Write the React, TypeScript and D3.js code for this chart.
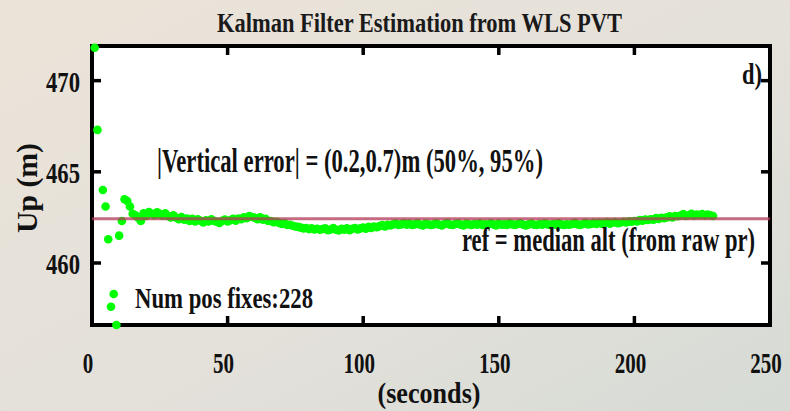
import React from 'react';
import * as d3 from 'd3';

// ---- data ----
const titleText = 'Kalman Filter Estimation from WLS PVT';
const xLabelText = '(seconds)';
const yLabelText = 'Up (m)';
const errorText = '|Vertical error| = (0.2,0.7)m (50%, 95%)';
const refText = 'ref = median alt (from raw pr)';
const fixesText = 'Num pos fixes:228';
const panelText = 'd)';

const xTickValues = [0, 50, 100, 150, 200, 250];
const yTickValues = [460, 465, 470];
const xDomain = [0, 250];
const yDomain = [456.6, 471.9];

const refAltitude = 462.42;

// first fixes (convergence transient)
const earlyTimes = [1, 2, 4, 5, 6, 7, 8, 9, 10, 11, 12, 13, 14, 15];
const earlyValues = [471.8, 467.3, 464.0, 463.1, 461.3, 457.6, 458.3, 456.6, 461.5, 462.3, 463.5, 463.4, 463.1, 462.7];

// steady track, one fix per second from t = 16
const trackStart = 16;
const trackValues = [
  462.62, 462.48, 462.30, 462.72, 462.58, 462.80, 462.70, 462.62, 462.78, 462.68,
  462.60, 462.72, 462.58, 462.50, 462.62, 462.48, 462.40, 462.52, 462.38, 462.44,
  462.30, 462.42, 462.28, 462.40, 462.32, 462.22, 462.34, 462.28, 462.40, 462.30,
  462.26, 462.20, 462.32, 462.38, 462.28, 462.34, 462.42, 462.32, 462.44, 462.40,
  462.50, 462.46, 462.58, 462.52, 462.48, 462.40, 462.50, 462.38, 462.42, 462.30,
  462.30, 462.24, 462.26, 462.20, 462.14, 462.18, 462.08, 462.10, 462.04, 462.00,
  461.98, 461.94, 461.90, 461.92, 461.86, 461.90, 461.84, 461.88, 461.82, 461.86,
  461.90, 461.80, 461.84, 461.92, 461.82, 461.78, 461.88, 461.82, 461.90, 461.80,
  461.88, 461.92, 461.84, 461.90, 461.94, 461.88, 461.98, 461.92, 462.00, 461.96,
  462.02, 462.08, 462.00, 462.10, 462.06, 462.12, 462.16, 462.08, 462.12, 462.18,
  462.10, 462.16, 462.08, 462.12, 462.18, 462.10, 462.06, 462.16, 462.12, 462.08,
  462.12, 462.18, 462.10, 462.06, 462.14, 462.20, 462.10, 462.08, 462.14, 462.18,
  462.10, 462.06, 462.16, 462.12, 462.08, 462.14, 462.10, 462.18, 462.08, 462.12,
  462.10, 462.18, 462.12, 462.06, 462.16, 462.10, 462.12, 462.08, 462.18, 462.12,
  462.08, 462.14, 462.18, 462.10, 462.06, 462.12, 462.16, 462.10, 462.08, 462.14,
  462.10, 462.18, 462.12, 462.08, 462.14, 462.10, 462.18, 462.12, 462.08, 462.12,
  462.10, 462.14, 462.20, 462.12, 462.08, 462.14, 462.20, 462.12, 462.14, 462.20,
  462.14, 462.22, 462.16, 462.20, 462.24, 462.16, 462.22, 462.24, 462.18, 462.22,
  462.26, 462.22, 462.28, 462.26, 462.30, 462.28, 462.36, 462.32, 462.38, 462.36,
  462.40, 462.38, 462.46, 462.42, 462.48, 462.46, 462.50, 462.56, 462.50, 462.58,
  462.56, 462.60, 462.68, 462.58, 462.62, 462.70, 462.60, 462.66, 462.62, 462.68,
  462.60, 462.66, 462.62, 462.58,
];

const W = 790;
const H = 411;
const M = { left: 92, right: 770, top: 46, bottom: 325 };
const FONT = '"Liberation Serif", "Times New Roman", serif';

type Pt = { t: number; v: number };

export default function App() {
  const points: Pt[] = [
    ...earlyTimes.map((t, i) => ({ t, v: earlyValues[i] })),
    ...trackValues.map((v, i) => ({ t: trackStart + i, v })),
  ];

  const x = d3.scaleLinear().domain(xDomain).range([M.left, M.right]);
  const y = d3.scaleLinear().domain(yDomain).range([M.bottom, M.top]);

  const tickLen = 9;
  const innerX = xTickValues.filter((v) => v > xDomain[0] && v < xDomain[1]);

  const refLine = d3.line<number>()
    .x((d) => x(d))
    .y(() => y(refAltitude))([xDomain[0], xDomain[1]]) as string;

  return (
    <svg
      width={W}
      height={H}
      viewBox={`0 0 ${W} ${H}`}
      style={{ position: 'absolute', left: 0, top: 0, display: 'block' }}
      fontFamily={FONT}
    >
      <defs>
        <linearGradient id="bg" x1="0" y1="0" x2="1" y2="1">
          <stop offset="0" stopColor="#ebe3d8" />
          <stop offset="0.55" stopColor="#e4e1da" />
          <stop offset="1" stopColor="#d6dbd5" />
        </linearGradient>
      </defs>
      <rect x={0} y={0} width={W} height={H} fill="url(#bg)" />

      {/* plot area */}
      <rect x={M.left} y={M.top} width={M.right - M.left} height={M.bottom - M.top} fill="#ffffff" />

      {/* ticks */}
      <g stroke="#000" strokeWidth={3.5}>
        {innerX.map((v) => (
          <g key={`xt${v}`}>
            <line x1={x(v)} x2={x(v)} y1={M.top} y2={M.top + tickLen} />
            <line x1={x(v)} x2={x(v)} y1={M.bottom} y2={M.bottom - tickLen} />
          </g>
        ))}
        {yTickValues.map((v) => (
          <g key={`yt${v}`}>
            <line x1={M.left} x2={M.left + tickLen} y1={y(v)} y2={y(v)} />
            <line x1={M.right} x2={M.right - tickLen} y1={y(v)} y2={y(v)} />
          </g>
        ))}
      </g>
      {/* frame */}
      <rect
        x={M.left}
        y={M.top}
        width={M.right - M.left}
        height={M.bottom - M.top}
        fill="none"
        stroke="#000"
        strokeWidth={4}
      />

      {/* points */}
      <g fill="#00ff00">
        {points.map((p, i) => (
          <circle key={i} cx={x(p.t)} cy={y(p.v)} r={4.3} />
        ))}
      </g>

      {/* reference line */}
      <path d={refLine} stroke="#b03a58" strokeOpacity={0.75} strokeWidth={3} fill="none" />

      {/* tick labels */}
      <g fontWeight="bold" fontSize={30} fill="#111">
        {yTickValues.map((v) => (
          <text key={`yl${v}`} x={80} y={y(v) + 11} textAnchor="end" textLength={34} lengthAdjust="spacingAndGlyphs">
            {String(v)}
          </text>
        ))}
        {xTickValues.map((v) => {
          const s = String(v);
          return (
            <text
              key={`xl${v}`}
              x={x(v) - 4}
              y={373}
              textAnchor="middle"
              textLength={s.length * 10.5}
              lengthAdjust="spacingAndGlyphs"
            >
              {s}
            </text>
          );
        })}
      </g>

      {/* title and axis labels */}
      <text x={217} y={32} fontSize={28} fontWeight="bold" fill="#1a1a1a" textLength={405} lengthAdjust="spacingAndGlyphs">
        {titleText}
      </text>
      <text x={429} y={403} fontSize={30} fontWeight="bold" fill="#111" textAnchor="middle" textLength={103} lengthAdjust="spacingAndGlyphs">
        {xLabelText}
      </text>
      <text
        transform="translate(37,188) rotate(-90)"
        fontSize={30}
        fontWeight="bold"
        fill="#111"
        textAnchor="middle"
        textLength={90}
        lengthAdjust="spacingAndGlyphs"
      >
        {yLabelText}
      </text>

      {/* annotations */}
      <text x={742} y={84} fontSize={29} fontWeight="bold" fill="#111" textLength={20} lengthAdjust="spacingAndGlyphs">
        {panelText}
      </text>
      <text x={157} y={172} fontSize={33} fontWeight="bold" fill="#111" textLength={386} lengthAdjust="spacingAndGlyphs">
        {errorText}
      </text>
      <text x={462} y={251} fontSize={33} fontWeight="bold" fill="#111" textLength={293} lengthAdjust="spacingAndGlyphs">
        {refText}
      </text>
      <text x={135} y={308} fontSize={30} fontWeight="bold" fill="#111" textLength={178} lengthAdjust="spacingAndGlyphs">
        {fixesText}
      </text>
    </svg>
  );
}
